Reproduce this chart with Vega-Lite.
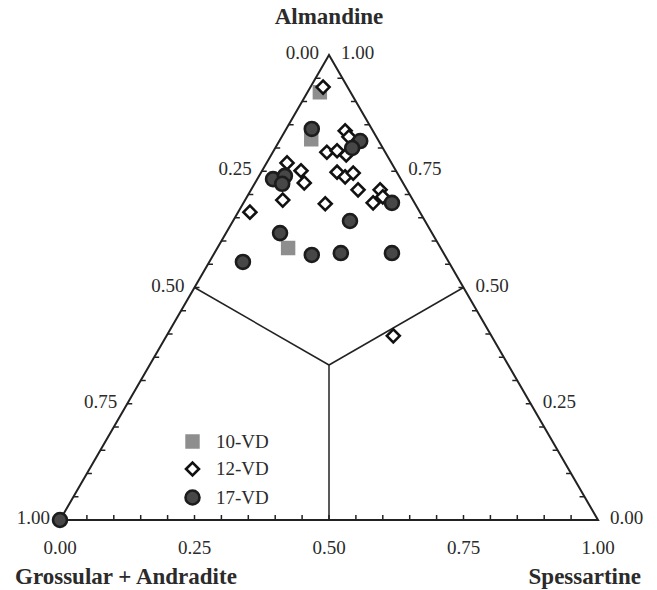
{
  "$schema": "https://vega.github.io/schema/vega-lite/v6.json",
  "width": 538,
  "height": 465,
  "autosize": {"type": "none"},
  "padding": {"left": 60, "top": 55, "right": 59, "bottom": 70},
  "background": "white",
  "config": {"view": {"stroke": null}, "text": {"font": "Liberation Serif", "color": "#2b2b2b"}},
  "datasets": {
    "frame": [
      {"x": 0, "y": 0, "o": 0}, {"x": 1, "y": 0, "o": 1}, {"x": 0.5, "y": 1, "o": 2}, {"x": 0, "y": 0, "o": 3}
    ],
    "inner": [
      {"x": 0.5, "y": 0.3333, "x2": 0.25, "y2": 0.5},
      {"x": 0.5, "y": 0.3333, "x2": 0.75, "y2": 0.5},
      {"x": 0.5, "y": 0.3333, "x2": 0.5, "y2": 0}
    ],
    "ticks": [
      {"side": "b", "x": 0.05, "y": 0}, {"side": "b", "x": 0.10, "y": 0}, {"side": "b", "x": 0.15, "y": 0}, {"side": "b", "x": 0.20, "y": 0},
      {"side": "b", "x": 0.25, "y": 0}, {"side": "b", "x": 0.30, "y": 0}, {"side": "b", "x": 0.35, "y": 0}, {"side": "b", "x": 0.40, "y": 0},
      {"side": "b", "x": 0.45, "y": 0}, {"side": "b", "x": 0.50, "y": 0}, {"side": "b", "x": 0.55, "y": 0}, {"side": "b", "x": 0.60, "y": 0},
      {"side": "b", "x": 0.65, "y": 0}, {"side": "b", "x": 0.70, "y": 0}, {"side": "b", "x": 0.75, "y": 0}, {"side": "b", "x": 0.80, "y": 0},
      {"side": "b", "x": 0.85, "y": 0}, {"side": "b", "x": 0.90, "y": 0}, {"side": "b", "x": 0.95, "y": 0},
      {"side": "l", "x": 0.025, "y": 0.05}, {"side": "l", "x": 0.05, "y": 0.10}, {"side": "l", "x": 0.075, "y": 0.15}, {"side": "l", "x": 0.10, "y": 0.20},
      {"side": "l", "x": 0.125, "y": 0.25}, {"side": "l", "x": 0.15, "y": 0.30}, {"side": "l", "x": 0.175, "y": 0.35}, {"side": "l", "x": 0.20, "y": 0.40},
      {"side": "l", "x": 0.225, "y": 0.45}, {"side": "l", "x": 0.25, "y": 0.50}, {"side": "l", "x": 0.275, "y": 0.55}, {"side": "l", "x": 0.30, "y": 0.60},
      {"side": "l", "x": 0.325, "y": 0.65}, {"side": "l", "x": 0.35, "y": 0.70}, {"side": "l", "x": 0.375, "y": 0.75}, {"side": "l", "x": 0.40, "y": 0.80},
      {"side": "l", "x": 0.425, "y": 0.85}, {"side": "l", "x": 0.45, "y": 0.90}, {"side": "l", "x": 0.475, "y": 0.95},
      {"side": "r", "x": 0.975, "y": 0.05}, {"side": "r", "x": 0.95, "y": 0.10}, {"side": "r", "x": 0.925, "y": 0.15}, {"side": "r", "x": 0.90, "y": 0.20},
      {"side": "r", "x": 0.875, "y": 0.25}, {"side": "r", "x": 0.85, "y": 0.30}, {"side": "r", "x": 0.825, "y": 0.35}, {"side": "r", "x": 0.80, "y": 0.40},
      {"side": "r", "x": 0.775, "y": 0.45}, {"side": "r", "x": 0.75, "y": 0.50}, {"side": "r", "x": 0.725, "y": 0.55}, {"side": "r", "x": 0.70, "y": 0.60},
      {"side": "r", "x": 0.675, "y": 0.65}, {"side": "r", "x": 0.65, "y": 0.70}, {"side": "r", "x": 0.625, "y": 0.75}, {"side": "r", "x": 0.60, "y": 0.80},
      {"side": "r", "x": 0.575, "y": 0.85}, {"side": "r", "x": 0.55, "y": 0.90}, {"side": "r", "x": 0.525, "y": 0.95}
    ],
    "labels": [
      {"side": "b", "x": 0, "y": 0, "v": 0}, {"side": "b", "x": 0.25, "y": 0, "v": 0.25}, {"side": "b", "x": 0.5, "y": 0, "v": 0.5},
      {"side": "b", "x": 0.75, "y": 0, "v": 0.75}, {"side": "b", "x": 1, "y": 0, "v": 1},
      {"side": "l", "x": 0.5, "y": 1, "v": 0}, {"side": "l", "x": 0.375, "y": 0.75, "v": 0.25}, {"side": "l", "x": 0.25, "y": 0.5, "v": 0.5},
      {"side": "l", "x": 0.125, "y": 0.25, "v": 0.75}, {"side": "l", "x": 0, "y": 0, "v": 1},
      {"side": "r", "x": 0.5, "y": 1, "v": 1}, {"side": "r", "x": 0.625, "y": 0.75, "v": 0.75}, {"side": "r", "x": 0.75, "y": 0.5, "v": 0.5},
      {"side": "r", "x": 0.875, "y": 0.25, "v": 0.25}, {"side": "r", "x": 1, "y": 0, "v": 0}
    ],
    "garnet": [
      {"sample": "10-VD", "x": 0.483, "y": 0.920},
      {"sample": "10-VD", "x": 0.467, "y": 0.819},
      {"sample": "10-VD", "x": 0.424, "y": 0.585},
      {"sample": "12-VD", "x": 0.489, "y": 0.931},
      {"sample": "12-VD", "x": 0.530, "y": 0.837},
      {"sample": "12-VD", "x": 0.537, "y": 0.824},
      {"sample": "12-VD", "x": 0.496, "y": 0.791},
      {"sample": "12-VD", "x": 0.515, "y": 0.794},
      {"sample": "12-VD", "x": 0.532, "y": 0.785},
      {"sample": "12-VD", "x": 0.422, "y": 0.768},
      {"sample": "12-VD", "x": 0.448, "y": 0.751},
      {"sample": "12-VD", "x": 0.454, "y": 0.725},
      {"sample": "12-VD", "x": 0.414, "y": 0.688},
      {"sample": "12-VD", "x": 0.353, "y": 0.662},
      {"sample": "12-VD", "x": 0.493, "y": 0.680},
      {"sample": "12-VD", "x": 0.515, "y": 0.748},
      {"sample": "12-VD", "x": 0.530, "y": 0.738},
      {"sample": "12-VD", "x": 0.545, "y": 0.746},
      {"sample": "12-VD", "x": 0.554, "y": 0.710},
      {"sample": "12-VD", "x": 0.595, "y": 0.710},
      {"sample": "12-VD", "x": 0.600, "y": 0.695},
      {"sample": "12-VD", "x": 0.582, "y": 0.682},
      {"sample": "12-VD", "x": 0.6195, "y": 0.396},
      {"sample": "17-VD", "x": 0.468, "y": 0.841},
      {"sample": "17-VD", "x": 0.558, "y": 0.815},
      {"sample": "17-VD", "x": 0.543, "y": 0.800},
      {"sample": "17-VD", "x": 0.396, "y": 0.733},
      {"sample": "17-VD", "x": 0.418, "y": 0.740},
      {"sample": "17-VD", "x": 0.413, "y": 0.723},
      {"sample": "17-VD", "x": 0.617, "y": 0.682},
      {"sample": "17-VD", "x": 0.539, "y": 0.643},
      {"sample": "17-VD", "x": 0.409, "y": 0.617},
      {"sample": "17-VD", "x": 0.340, "y": 0.555},
      {"sample": "17-VD", "x": 0.468, "y": 0.570},
      {"sample": "17-VD", "x": 0.522, "y": 0.574},
      {"sample": "17-VD", "x": 0.617, "y": 0.574},
      {"sample": "17-VD", "x": 0, "y": 0}
    ]
  },
  "layer": [
    {
      "data": {"name": "frame"},
      "mark": {"type": "line", "stroke": "#222222", "strokeWidth": 2, "strokeJoin": "miter"},
      "encoding": {
        "x": {"field": "x", "type": "quantitative", "scale": {"domain": [0, 1], "nice": false}, "axis": null},
        "y": {"field": "y", "type": "quantitative", "scale": {"domain": [0, 1], "nice": false}, "axis": null},
        "order": {"field": "o", "type": "quantitative"}
      }
    },
    {
      "data": {"name": "inner"},
      "mark": {"type": "rule", "stroke": "#222222", "strokeWidth": 1.5},
      "encoding": {
        "x": {"field": "x", "type": "quantitative"},
        "y": {"field": "y", "type": "quantitative"},
        "x2": {"field": "x2"},
        "y2": {"field": "y2"}
      }
    },
    {
      "data": {"name": "ticks"},
      "transform": [{"filter": "datum.side === 'b'"}],
      "mark": {"type": "point", "shape": "stroke", "angle": 90, "size": 25, "filled": false, "stroke": "#222222", "strokeWidth": 1.5, "opacity": 1, "yOffset": -2.5},
      "encoding": {"x": {"field": "x", "type": "quantitative"}, "y": {"field": "y", "type": "quantitative"}}
    },
    {
      "data": {"name": "ticks"},
      "transform": [{"filter": "datum.side === 'l'"}],
      "mark": {"type": "point", "shape": "stroke", "size": 25, "filled": false, "stroke": "#222222", "strokeWidth": 1.5, "opacity": 1, "xOffset": 2.5},
      "encoding": {"x": {"field": "x", "type": "quantitative"}, "y": {"field": "y", "type": "quantitative"}}
    },
    {
      "data": {"name": "ticks"},
      "transform": [{"filter": "datum.side === 'r'"}],
      "mark": {"type": "point", "shape": "stroke", "size": 25, "filled": false, "stroke": "#222222", "strokeWidth": 1.5, "opacity": 1, "xOffset": -2.5},
      "encoding": {"x": {"field": "x", "type": "quantitative"}, "y": {"field": "y", "type": "quantitative"}}
    },
    {
      "data": {"name": "garnet"},
      "mark": {"type": "point", "filled": true, "opacity": 1, "strokeWidth": 2.6},
      "encoding": {
        "x": {"field": "x", "type": "quantitative"},
        "y": {"field": "y", "type": "quantitative"},
        "shape": {
          "field": "sample", "type": "nominal",
          "scale": {"domain": ["10-VD", "12-VD", "17-VD"], "range": ["square", "diamond", "circle"]},
          "legend": {
            "orient": "none", "legendX": 123, "legendY": 377, "title": null, "padding": 0,
            "rowPadding": 3.5, "labelOffset": 14, "labelFont": "Liberation Serif", "labelFontSize": 19,
            "labelColor": "#2b2b2b", "symbolStrokeWidth": 2.6, "symbolOpacity": 1
          }
        },
        "fill": {
          "field": "sample", "type": "nominal",
          "scale": {"domain": ["10-VD", "12-VD", "17-VD"], "range": ["#8e8e8e", "#ffffff", "#474747"]}
        },
        "stroke": {
          "field": "sample", "type": "nominal",
          "scale": {"domain": ["10-VD", "12-VD", "17-VD"], "range": ["#8e8e8e", "#111111", "#1c1c1c"]}
        },
        "size": {
          "field": "sample", "type": "nominal",
          "scale": {"domain": ["10-VD", "12-VD", "17-VD"], "range": [140, 195, 185]}
        }
      }
    },
    {
      "data": {"name": "labels"},
      "transform": [{"filter": "datum.side === 'b'"}],
      "mark": {"type": "text", "fontSize": 19, "align": "center", "baseline": "middle", "dy": 28},
      "encoding": {"x": {"field": "x", "type": "quantitative"}, "y": {"field": "y", "type": "quantitative"}, "text": {"field": "v", "type": "quantitative", "format": ".2f"}}
    },
    {
      "data": {"name": "labels"},
      "transform": [{"filter": "datum.side === 'l'"}],
      "mark": {"type": "text", "fontSize": 19, "align": "right", "baseline": "middle", "dx": -10, "dy": -2},
      "encoding": {"x": {"field": "x", "type": "quantitative"}, "y": {"field": "y", "type": "quantitative"}, "text": {"field": "v", "type": "quantitative", "format": ".2f"}}
    },
    {
      "data": {"name": "labels"},
      "transform": [{"filter": "datum.side === 'r'"}],
      "mark": {"type": "text", "fontSize": 19, "align": "left", "baseline": "middle", "dx": 12, "dy": -2},
      "encoding": {"x": {"field": "x", "type": "quantitative"}, "y": {"field": "y", "type": "quantitative"}, "text": {"field": "v", "type": "quantitative", "format": ".2f"}}
    },
    {
      "data": {"values": [{"name": "Almandine", "x": 0.5, "y": 1}]},
      "mark": {"type": "text", "fontSize": 23, "fontWeight": "bold", "align": "center", "baseline": "middle", "dy": -38},
      "encoding": {"x": {"field": "x", "type": "quantitative"}, "y": {"field": "y", "type": "quantitative"}, "text": {"field": "name"}}
    },
    {
      "data": {"values": [{"name": "Grossular + Andradite", "x": 0, "y": 0}]},
      "mark": {"type": "text", "fontSize": 23, "fontWeight": "bold", "align": "left", "baseline": "middle", "dx": -45, "dy": 57},
      "encoding": {"x": {"field": "x", "type": "quantitative"}, "y": {"field": "y", "type": "quantitative"}, "text": {"field": "name"}}
    },
    {
      "data": {"values": [{"name": "Spessartine", "x": 1, "y": 0}]},
      "mark": {"type": "text", "fontSize": 23, "fontWeight": "bold", "align": "right", "baseline": "middle", "dx": 43, "dy": 57},
      "encoding": {"x": {"field": "x", "type": "quantitative"}, "y": {"field": "y", "type": "quantitative"}, "text": {"field": "name"}}
    }
  ]
}
